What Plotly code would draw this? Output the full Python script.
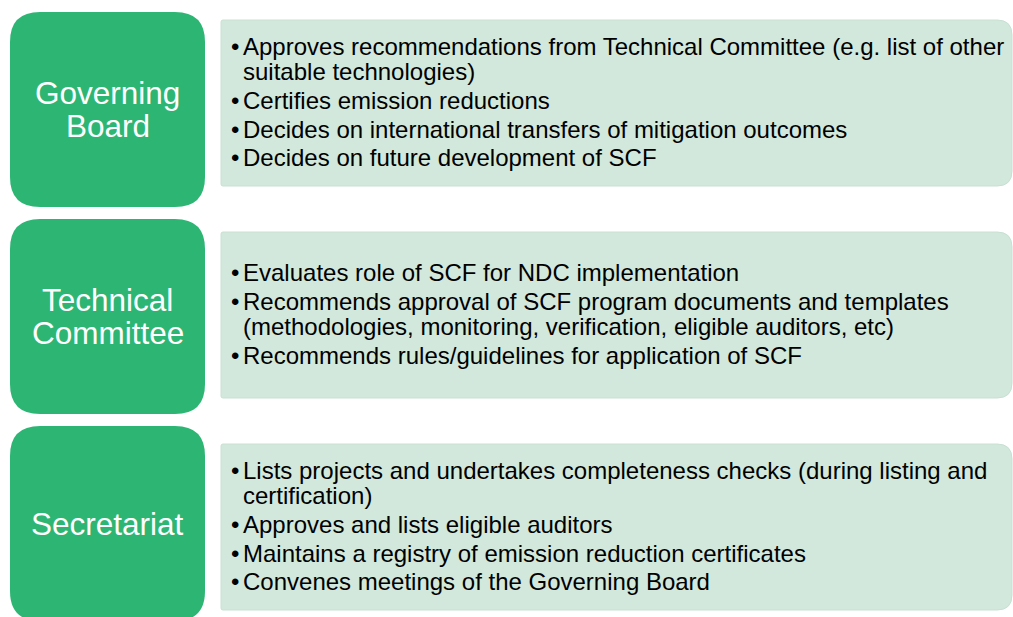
import plotly.graph_objects as go

# ---- data ----
titles = [["Governing", "Board"], ["Technical", "Committee"], ["Secretariat"]]

governing_bullets = [
    ["Approves recommendations from Technical Committee (e.g. list of other",
     "suitable technologies)"],
    ["Certifies emission reductions"],
    ["Decides on international transfers of mitigation outcomes"],
    ["Decides on future development of SCF"],
]
technical_bullets = [
    ["Evaluates role of SCF for NDC implementation"],
    ["Recommends approval of SCF program documents and templates",
     "(methodologies, monitoring, verification, eligible auditors, etc)"],
    ["Recommends rules/guidelines for application of SCF"],
]
secretariat_bullets = [
    ["Lists projects and undertakes completeness checks (during listing and",
     "certification)"],
    ["Approves and lists eligible auditors"],
    ["Maintains a registry of emission reduction certificates"],
    ["Convenes meetings of the Governing Board"],
]
sections_bullets = [governing_bullets, technical_bullets, secretariat_bullets]

# ---- layout / style ----
W, H = 1013, 617
GREEN = "rgb(45,182,115)"
LIGHT = "rgb(210,232,220)"
LIGHT_EDGE = "rgb(200,224,210)"
FONT = "Arial, Liberation Sans, sans-serif"

green_tops = [12, 219, 426]
green_h = 195
green_x0, green_x1 = 10, 205
light_tops = [20, 232, 444]
light_h = 166
light_x0, light_x1 = 221, 1012
WRAP_GAP = 25.5
BULLET_GAP = 28.6
TITLE_GAP = 33
TITLE_SIZE = 31.5
TEXT_SIZE = 24


def rounded_rect(x0, y0, x1, y1, rl, rr):
    return (f"M {x0+rl},{y0} L {x1-rr},{y0} Q {x1},{y0} {x1},{y0+rr} "
            f"L {x1},{y1-rr} Q {x1},{y1} {x1-rr},{y1} "
            f"L {x0+rl},{y1} Q {x0},{y1} {x0},{y1-rl} "
            f"L {x0},{y0+rl} Q {x0},{y0} {x0+rl},{y0} Z")


shapes = []
annotations = []
for i, (title, bullets) in enumerate(zip(titles, sections_bullets)):
    gt = green_tops[i]
    lt, lb = light_tops[i], light_tops[i] + light_h
    # light box
    shapes.append(dict(type="path", xref="x", yref="y",
                       path=rounded_rect(light_x0, lt, light_x1, lb, 2, 15),
                       fillcolor=LIGHT, line=dict(color=LIGHT_EDGE, width=1),
                       layer="below"))
    # green box
    shapes.append(dict(type="path", xref="x", yref="y",
                       path=rounded_rect(green_x0, gt, green_x1, gt + green_h, 30, 30),
                       fillcolor=GREEN, line=dict(width=0), layer="below"))
    gc = gt + green_h / 2
    n = len(title)
    for k, word in enumerate(title):
        annotations.append(dict(x=(green_x0 + green_x1) / 2,
                                y=gc + (k - (n - 1) / 2) * TITLE_GAP,
                                xref="x", yref="y", text=word, showarrow=False,
                                font=dict(family=FONT, size=TITLE_SIZE, color="white"),
                                xanchor="center", yanchor="middle"))
    # bullet lines
    ys = []
    y = 0.0
    for bi, lines in enumerate(bullets):
        if bi > 0:
            y += BULLET_GAP
        for li, line in enumerate(lines):
            if li > 0:
                y += WRAP_GAP
            ys.append((y, li == 0, line))
    total = ys[-1][0]
    center = (lt + lb) / 2 - 1
    start = center - total / 2
    for (dy, first, line) in ys:
        yy = start + dy
        if first:
            annotations.append(dict(x=229, y=yy, xref="x", yref="y", text="•",
                                    showarrow=False, xanchor="left", yanchor="middle",
                                    font=dict(family=FONT, size=TEXT_SIZE, color="black")))
        annotations.append(dict(x=241, y=yy, xref="x", yref="y", text=line,
                                showarrow=False, xanchor="left", yanchor="middle",
                                font=dict(family=FONT, size=TEXT_SIZE, color="black")))

fig = go.Figure()
fig.update_layout(
    width=W, height=H,
    margin=dict(l=0, r=0, t=0, b=0),
    paper_bgcolor="white", plot_bgcolor="white",
    xaxis=dict(range=[0, W], visible=False, fixedrange=True),
    yaxis=dict(range=[H, 0], visible=False, fixedrange=True),
    shapes=shapes, annotations=annotations, showlegend=False,
)
fig.write_html("out.html",
               config={"displayModeBar": False, "staticPlot": True},
               post_script="document.body.style.margin='0';document.body.style.overflow='hidden';")
